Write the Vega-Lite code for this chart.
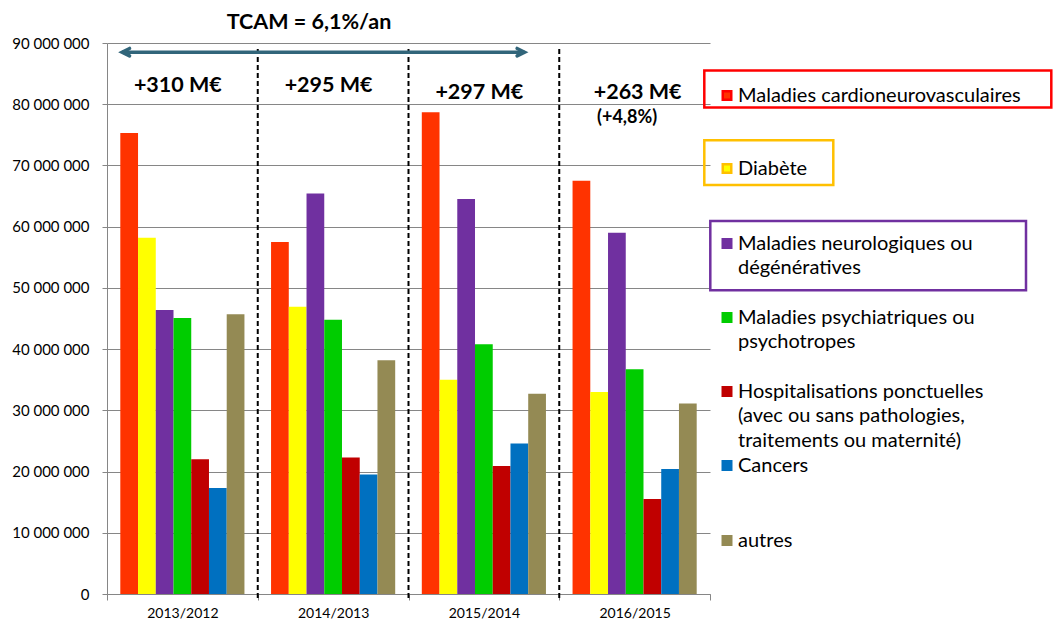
{
  "$schema": "https://vega.github.io/schema/vega-lite/v6.json",
  "width": 603,
  "height": 551,
  "autosize": {"type": "none"},
  "padding": {"left": 107, "top": 43, "right": 345, "bottom": 27},
  "background": "white",
  "config": {
    "font": "Lato",
    "view": {"stroke": null},
    "axis": {"labelFont": "Lato", "labelColor": "black", "labelFontSize": 14}
  },
  "datasets": {
    "depenses": [
      {"periode": "2013/2012", "serie": "Maladies cardioneurovasculaires", "montant": 75300000},
      {"periode": "2013/2012", "serie": "Diabète", "montant": 58200000},
      {"periode": "2013/2012", "serie": "Maladies neurologiques ou dégénératives", "montant": 46400000},
      {"periode": "2013/2012", "serie": "Maladies psychiatriques ou psychotropes", "montant": 45100000},
      {"periode": "2013/2012", "serie": "Hospitalisations ponctuelles (avec ou sans pathologies, traitements ou maternité)", "montant": 22000000},
      {"periode": "2013/2012", "serie": "Cancers", "montant": 17300000},
      {"periode": "2013/2012", "serie": "autres", "montant": 45700000},
      {"periode": "2014/2013", "serie": "Maladies cardioneurovasculaires", "montant": 57500000},
      {"periode": "2014/2013", "serie": "Diabète", "montant": 46900000},
      {"periode": "2014/2013", "serie": "Maladies neurologiques ou dégénératives", "montant": 65400000},
      {"periode": "2014/2013", "serie": "Maladies psychiatriques ou psychotropes", "montant": 44800000},
      {"periode": "2014/2013", "serie": "Hospitalisations ponctuelles (avec ou sans pathologies, traitements ou maternité)", "montant": 22300000},
      {"periode": "2014/2013", "serie": "Cancers", "montant": 19500000},
      {"periode": "2014/2013", "serie": "autres", "montant": 38200000},
      {"periode": "2015/2014", "serie": "Maladies cardioneurovasculaires", "montant": 78700000},
      {"periode": "2015/2014", "serie": "Diabète", "montant": 35000000},
      {"periode": "2015/2014", "serie": "Maladies neurologiques ou dégénératives", "montant": 64500000},
      {"periode": "2015/2014", "serie": "Maladies psychiatriques ou psychotropes", "montant": 40800000},
      {"periode": "2015/2014", "serie": "Hospitalisations ponctuelles (avec ou sans pathologies, traitements ou maternité)", "montant": 20900000},
      {"periode": "2015/2014", "serie": "Cancers", "montant": 24600000},
      {"periode": "2015/2014", "serie": "autres", "montant": 32700000},
      {"periode": "2016/2015", "serie": "Maladies cardioneurovasculaires", "montant": 67500000},
      {"periode": "2016/2015", "serie": "Diabète", "montant": 33000000},
      {"periode": "2016/2015", "serie": "Maladies neurologiques ou dégénératives", "montant": 59000000},
      {"periode": "2016/2015", "serie": "Maladies psychiatriques ou psychotropes", "montant": 36700000},
      {"periode": "2016/2015", "serie": "Hospitalisations ponctuelles (avec ou sans pathologies, traitements ou maternité)", "montant": 15500000},
      {"periode": "2016/2015", "serie": "Cancers", "montant": 20400000},
      {"periode": "2016/2015", "serie": "autres", "montant": 31100000}
    ]
  },
  "layer": [
    {
      "data": {"name": "depenses"},
      "mark": {"type": "bar"},
      "encoding": {
        "x": {
          "field": "periode", "type": "nominal", "title": null,
          "scale": {"domain": ["2013/2012", "2014/2013", "2015/2014", "2016/2015"], "paddingInner": 0, "paddingOuter": 0},
          "axis": {"labelAngle": 0, "tickBand": "extent", "domainColor": "#868686", "tickColor": "#868686", "tickSize": 6, "labelPadding": 6, "grid": false}
        },
        "xOffset": {
          "field": "serie", "type": "nominal",
          "scale": {"domain": ["Maladies cardioneurovasculaires", "Diabète", "Maladies neurologiques ou dégénératives", "Maladies psychiatriques ou psychotropes", "Hospitalisations ponctuelles (avec ou sans pathologies, traitements ou maternité)", "Cancers", "autres"], "paddingInner": 0, "paddingOuter": 0.75}
        },
        "y": {
          "field": "montant", "type": "quantitative", "title": null,
          "scale": {"domain": [0, 90000000], "nice": false},
          "axis": {
            "values": [0, 10000000, 20000000, 30000000, 40000000, 50000000, 60000000, 70000000, 80000000, 90000000],
            "labelExpr": "replace(format(datum.value, ','), regexp(',', 'g'), ' ')",
            "grid": true, "gridColor": "#868686", "domainColor": "#868686", "tickColor": "#868686",
            "tickSize": 5, "labelPadding": 13, "labelFontSize": 15
          }
        },
        "color": {
          "field": "serie", "type": "nominal",
          "scale": {
            "domain": ["Maladies cardioneurovasculaires", "Diabète", "Maladies neurologiques ou dégénératives", "Maladies psychiatriques ou psychotropes", "Hospitalisations ponctuelles (avec ou sans pathologies, traitements ou maternité)", "Cancers", "autres"],
            "range": ["#FF3300", "#FFFF00", "#7030A0", "#00CC00", "#C00000", "#0070C0", "#948A54"]
          },
          "legend": {
            "title": null, "orient": "none", "legendX": 598, "legendY": 42.5, "padding": 0,
            "symbolType": "square", "symbolSize": 121, "symbolStrokeWidth": 0, "symbolOffset": 12,
            "labelFont": "Lato", "labelFontSize": 20, "labelColor": "black", "labelOffset": 1, "labelLimit": 600,
            "gridAlign": "each", "rowPadding": 0,
            "labelExpr": "datum.value == 'Maladies neurologiques ou dégénératives' ? ['Maladies neurologiques ou', 'dégénératives'] : datum.value == 'Maladies psychiatriques ou psychotropes' ? ['Maladies psychiatriques ou', 'psychotropes'] : datum.value == 'Hospitalisations ponctuelles (avec ou sans pathologies, traitements ou maternité)' ? ['Hospitalisations ponctuelles', '(avec ou sans pathologies,', 'traitements ou maternité)'] : datum.label",
            "encode": {
              "labels": {"update": {"lineHeight": {"value": 24.5}}},
              "symbols": {
                "update": {
                  "shape": {"signal": "datum.index == 0 ? 'M -0.773 -0.773 H 0.773 V 0.773 H -0.773 Z M -4.127 -4.545 H 58.964 V 2.182 H -4.127 Z M -4.127 -4.545 V 2.182 H 58.964 V -4.545 Z M 0 6.145 L 0 6.145' : datum.index == 1 ? 'M -0.773 -0.773 H 0.773 V 0.773 H -0.773 Z M -4.127 -5.145 H 19.327 V 2.982 H -4.127 Z M -4.127 -5.145 V 2.982 H 19.327 V -5.145 Z M 0 7.618 L 0 7.618' : datum.index == 2 ? 'M -0.773 -0.773 H 0.773 V 0.773 H -0.773 Z M -3.036 -4.109 H 54.364 V 8.491 H -3.036 Z M -3.036 -4.109 V 8.491 H 54.364 V -4.109 Z' : datum.index == 3 ? 'M -1 -1 H 1 V 1 H -1 Z M 0 -3.973 L 0 -3.973 M 0 11.491 L 0 11.491' : datum.index == 5 ? 'M -1 -1 H 1 V 1 H -1 Z M 0 -2.727 L 0 -2.727 M 0 11.818 L 0 11.818' : 'M -1 -1 H 1 V 1 H -1 Z'"},
                  "stroke": {"signal": "datum.index == 0 ? '#FF0000' : datum.index == 1 ? '#FFC000' : datum.index == 2 ? '#7030A0' : 'transparent'"},
                  "strokeWidth": {"signal": "datum.index < 3 ? 2.5 : 0"}
                }
              }
            }
          }
        }
      }
    },
    {
      "data": {"values": [{"periode": "2014/2013"}, {"periode": "2015/2014"}, {"periode": "2016/2015"}]},
      "mark": {"type": "rule", "color": "black", "strokeWidth": 2, "strokeDash": [5, 3]},
      "encoding": {
        "x": {"field": "periode", "type": "nominal", "bandPosition": 0, "title": null},
        "y": {"datum": 89000000, "type": "quantitative"},
        "y2": {"datum": -1000000}
      }
    },
    {
      "data": {"values": [{"debut": "2013/2012", "fin": "2015/2014"}]},
      "mark": {"type": "rule", "color": "#31657A", "strokeWidth": 3.5},
      "encoding": {
        "x": {"field": "debut", "type": "nominal", "bandPosition": 0.1, "title": null},
        "x2": {"field": "fin", "bandPosition": 0.77},
        "y": {"datum": 88500000, "type": "quantitative"}
      }
    },
    {
      "data": {"values": [{"debut": "2013/2012", "fin": "2015/2014"}]},
      "mark": {"type": "point", "shape": "M 2 -1 L 0 0 L 2 1", "filled": false, "stroke": "#31657A", "strokeWidth": 3.5, "size": 56, "opacity": 1, "strokeCap": "round", "strokeJoin": "miter"},
      "encoding": {
        "x": {"field": "debut", "type": "nominal", "bandPosition": 0.1, "title": null},
        "y": {"datum": 88500000, "type": "quantitative"}
      }
    },
    {
      "data": {"values": [{"debut": "2013/2012", "fin": "2015/2014"}]},
      "mark": {"type": "point", "shape": "M -2 -1 L 0 0 L -2 1", "filled": false, "stroke": "#31657A", "strokeWidth": 3.5, "size": 56, "opacity": 1, "strokeCap": "round", "strokeJoin": "miter"},
      "encoding": {
        "x": {"field": "fin", "type": "nominal", "bandPosition": 0.77, "title": null},
        "y": {"datum": 88500000, "type": "quantitative"}
      }
    },
    {
      "data": {"values": [
        {"periode": "2013/2012", "gain": "+310 M€"},
        {"periode": "2014/2013", "gain": "+295 M€"}
      ]},
      "mark": {"type": "text", "font": "Lato", "fontWeight": "bold", "fontSize": 21.5, "color": "black", "align": "center", "baseline": "middle"},
      "encoding": {
        "x": {"field": "periode", "type": "nominal", "bandPosition": 0.47, "title": null},
        "y": {"datum": 82900000, "type": "quantitative"},
        "text": {"field": "gain"}
      }
    },
    {
      "data": {"values": [{"periode": "2015/2014", "gain": "+297 M€"}]},
      "mark": {"type": "text", "font": "Lato", "fontWeight": "bold", "fontSize": 21.5, "color": "black", "align": "center", "baseline": "middle"},
      "encoding": {
        "x": {"field": "periode", "type": "nominal", "bandPosition": 0.47, "title": null},
        "y": {"datum": 81800000, "type": "quantitative"},
        "text": {"field": "gain"}
      }
    },
    {
      "data": {"values": [{"periode": "2016/2015", "gain": "+263 M€"}]},
      "mark": {"type": "text", "font": "Lato", "fontWeight": "bold", "fontSize": 21.5, "color": "black", "align": "center", "baseline": "middle"},
      "encoding": {
        "x": {"field": "periode", "type": "nominal", "bandPosition": 0.52, "title": null},
        "y": {"datum": 81800000, "type": "quantitative"},
        "text": {"field": "gain"}
      }
    },
    {
      "data": {"values": [{"periode": "2016/2015", "taux": "(+4,8%)"}]},
      "mark": {"type": "text", "font": "Lato", "fontWeight": "bold", "fontSize": 18, "color": "black", "align": "center", "baseline": "middle"},
      "encoding": {
        "x": {"field": "periode", "type": "nominal", "bandPosition": 0.45, "title": null},
        "y": {"datum": 77700000, "type": "quantitative"},
        "text": {"field": "taux"}
      }
    },
    {
      "data": {"values": [{"periode": "2014/2013", "titre": "TCAM = 6,1%/an"}]},
      "mark": {"type": "text", "font": "Lato", "fontWeight": "bold", "fontSize": 21.5, "color": "black", "align": "center", "baseline": "middle"},
      "encoding": {
        "x": {"field": "periode", "type": "nominal", "bandPosition": 0.34, "title": null},
        "y": {"datum": 93300000, "type": "quantitative"},
        "text": {"field": "titre"}
      }
    }
  ]
}
